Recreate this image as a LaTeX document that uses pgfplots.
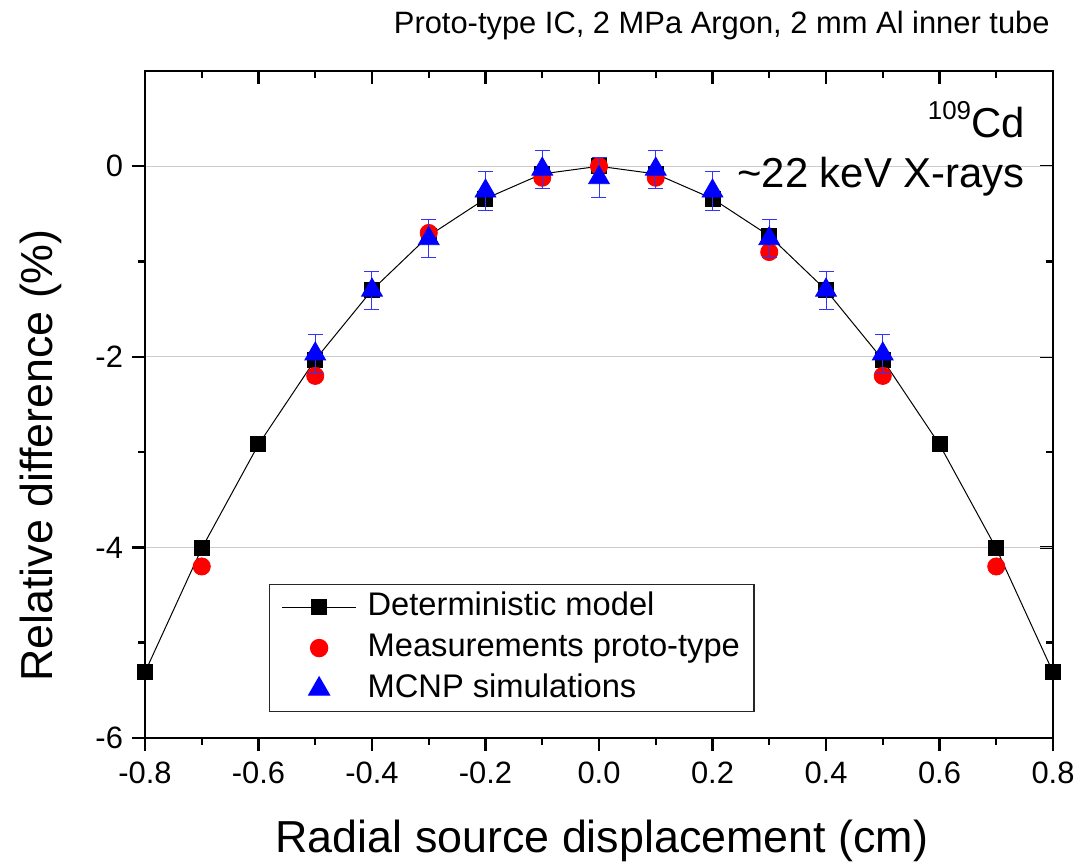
\documentclass[border=0pt]{standalone}
\usepackage{pgfplots}
\pgfplotsset{compat=1.18}
\usepackage{fontspec}
\setmainfont{Liberation Sans}

\pgfplotstableread{
x y
-0.8 -5.31
-0.7 -4.01
-0.6 -2.92
-0.5 -2.03
-0.4 -1.30
-0.3 -0.73
-0.2 -0.34
-0.1 -0.08
0.0 0.00
0.1 -0.08
0.2 -0.34
0.3 -0.73
0.4 -1.30
0.5 -2.03
0.6 -2.92
0.7 -4.01
0.8 -5.31
}\detmodel

\pgfplotstableread{
x y
-0.7 -4.20
-0.5 -2.20
-0.3 -0.70
-0.1 -0.12
0.0 0.00
0.1 -0.12
0.3 -0.90
0.5 -2.20
0.7 -4.20
}\meas

\pgfplotstableread{
x y e
-0.5 -1.97 0.2
-0.4 -1.30 0.2
-0.3 -0.76 0.2
-0.2 -0.26 0.2
-0.1 -0.03 0.2
0.0 -0.12 0.21
0.1 -0.03 0.2
0.2 -0.26 0.2
0.3 -0.76 0.2
0.4 -1.30 0.2
0.5 -1.97 0.2
}\mcnp

\begin{document}
\begin{tikzpicture}
\pgfplotsset{
  common/.style={
    width=454bp, height=333.5bp, scale only axis,
    xmin=-0.8, xmax=0.8, ymin=-6, ymax=1,
    xtick={-0.8,-0.6,-0.4,-0.2,0,0.2,0.4,0.6,0.8},
    ytick={-6,-4,-2,0},
    minor x tick num=1, minor y tick num=1,
    major tick length=6.5bp, minor tick length=3.5bp,
    major tick style={line width=1.2bp, black},
    minor tick style={line width=1.2bp, black},
    axis line style={line width=1.3bp, black},
  }
}
% ticks on top and right, pointing inward
\begin{axis}[common,
  xtick pos=right, ytick pos=right, tick align=inside,
  xticklabels={}, yticklabels={}]
\end{axis}

\begin{axis}[common,
  xtick pos=left, ytick pos=left, tick align=outside,
  ymajorgrids, grid style={gray!40, line width=0.6bp},
  ticklabel style={font=\fontsize{15.5}{18}\selectfont},
  /pgf/number format/assume math mode=true,
  xticklabel style={yshift=-2bp, /pgf/number format/.cd, fixed, fixed zerofill, precision=1},
  yticklabel style={xshift=-1bp, /pgf/number format/.cd, fixed, precision=0},
  clip mode=individual,
  legend style={at={(rel axis cs:0.1366,0.2309)}, anchor=north west,
    draw=black!85, line width=0.6bp, fill=white,
    font=\fontsize{16.4}{19}\selectfont,
    inner xsep=6bp, inner ysep=1bp, column sep=4.5bp,
    nodes={inner xsep=1bp, inner ysep=2.25bp, text height=12bp, text depth=4bp}},
  legend cell align=left,
  legend image code/.code={\draw[mark repeat=2,mark phase=2] plot coordinates {(0bp,0bp) (18.5bp,0bp) (37bp,0bp)};},
]
\addplot[black, line width=0.5bp, mark=square*, mark size=3.75bp, mark options={solid, fill=black}] table[x=x,y=y]{\detmodel};
\addlegendentry{Deterministic model}
\addplot[only marks, red, mark=*, mark size=4.3bp, mark options={fill=red, draw=red}] table[x=x,y=y]{\meas};
\addlegendentry{Measurements proto-type}
\addplot[only marks, blue, mark=triangle*, mark size=6bp, mark options={fill=blue, draw=blue},
  error bars/.cd, y dir=both, y explicit,
  error bar style={line width=0.5bp, blue!80},
  error mark options={rotate=90, mark size=3.75bp, line width=0.5bp, blue!80}]
  table[x=x,y=y,y error=e]{\mcnp};
\addlegendentry{MCNP simulations}

\node[anchor=base east, font=\fontsize{21}{24}\selectfont, inner sep=0pt] at (rel axis cs:0.9692,0.9010) {\raisebox{9bp}{\fontsize{13}{13}\selectfont 109}Cd};
\node[anchor=base east, font=\fontsize{21}{24}\selectfont, inner sep=0pt] at (rel axis cs:0.9692,0.8246) {\char"007E 22 keV X-rays};

\coordinate (bl) at (rel axis cs:-0.15969,-0.19040);
\coordinate (tr) at (rel axis cs:1.03965,1.10645);
\coordinate (ttl) at (rel axis cs:0.9967,1.0555);
\coordinate (xl) at (rel axis cs:0.5033,-0.1724);
\coordinate (yl) at (rel axis cs:-0.1024,0.4235);
\end{axis}
\node[anchor=base east, font=\fontsize{15.5}{18}\selectfont, inner sep=0pt] at (ttl) {Proto-type IC, 2 MPa Argon, 2 mm Al inner tube};
\node[anchor=base, font=\fontsize{22.5}{26}\selectfont, inner sep=0pt] at (xl) {Radial source displacement (cm)};
\node[anchor=base, rotate=90, font=\fontsize{22.5}{26}\selectfont, inner sep=0pt] at (yl) {Relative difference (\%)};
\pgfresetboundingbox
\useasboundingbox (bl) rectangle (tr);
\end{tikzpicture}
\end{document}
